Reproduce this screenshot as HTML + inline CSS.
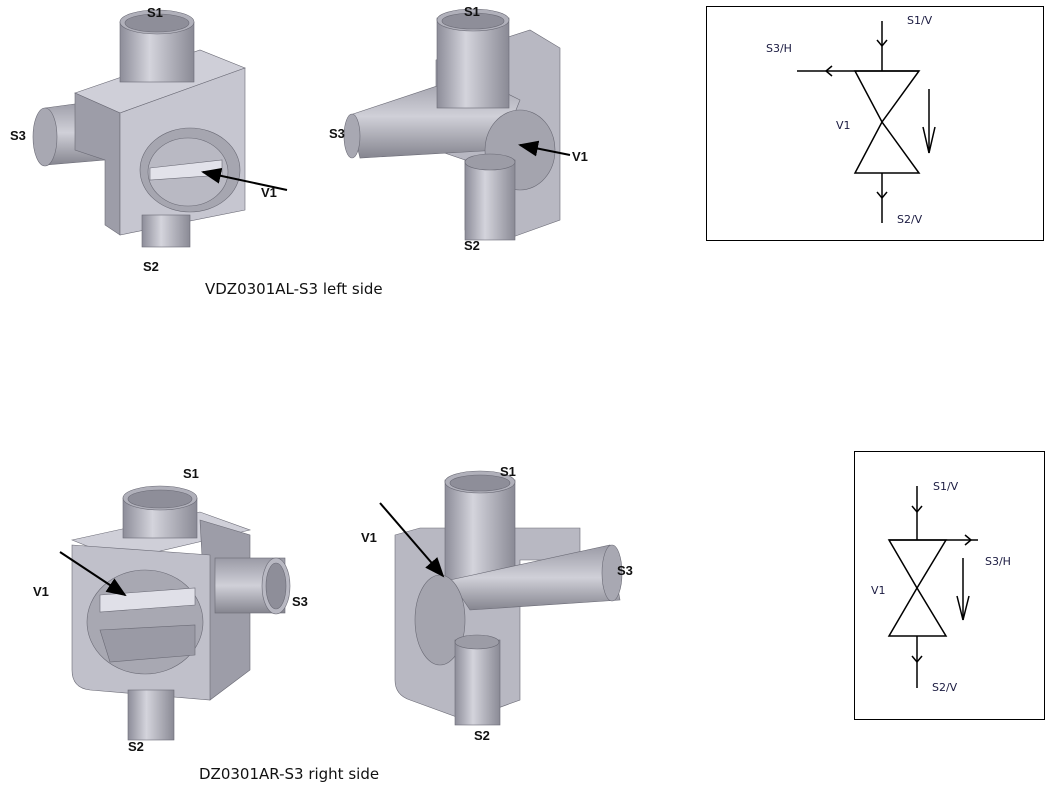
<!DOCTYPE html>
<html><head><style>
body{margin:0;background:#fff;}
svg{display:block;}
.l{font-family:"Liberation Sans",Arial,sans-serif;font-weight:bold;font-size:13px;fill:#111;}
.s{font-family:"DejaVu Sans","Liberation Sans",sans-serif;font-size:11px;fill:#1a1a40;}
.c{font-family:"DejaVu Sans","Liberation Sans",sans-serif;font-size:15px;fill:#111;}
</style></head><body>
<svg width="1060" height="787" viewBox="0 0 1060 787" xmlns="http://www.w3.org/2000/svg">
<defs>
<linearGradient id="cy" x1="0" x2="1"><stop offset="0" stop-color="#8d8d99"/><stop offset=".4" stop-color="#d4d4dc"/><stop offset="1" stop-color="#8a8a95"/></linearGradient>
<linearGradient id="cyv" x1="0" x2="0" y1="0" y2="1"><stop offset="0" stop-color="#9a9aa5"/><stop offset=".5" stop-color="#d0d0d8"/><stop offset="1" stop-color="#85858f"/></linearGradient>
<marker id="ah" markerWidth="10" markerHeight="8" refX="9" refY="4" orient="auto"><path d="M0,0 L10,4 L0,8 Z" fill="#000"/></marker>
</defs>

<!-- ===== Top-left object ===== -->
<g stroke="#6a6a75" stroke-width="0.6">
<polygon points="45,108 105,100 105,160 45,165" fill="url(#cyv)"/>
<ellipse cx="45" cy="137" rx="12" ry="29" fill="#a8a8b2"/>
<polygon points="75,93 200,50 245,68 120,113" fill="#cfcfd8"/>
<polygon points="75,93 120,113 120,235 105,225 105,160 75,150" fill="#9d9da8"/>
<polygon points="120,113 245,68 245,210 120,235" fill="#c6c6d0"/>
<rect x="120" y="22" width="74" height="60" fill="url(#cy)"/>
<ellipse cx="157" cy="22" rx="37" ry="12" fill="#b0b0ba"/>
<ellipse cx="157" cy="23" rx="32" ry="9" fill="#8e8e99"/>
<rect x="142" y="215" width="48" height="32" fill="url(#cy)"/>
<ellipse cx="190" cy="170" rx="50" ry="42" fill="#a6a6b0"/>
<ellipse cx="188" cy="172" rx="40" ry="34" fill="#b9b9c3"/>
<polygon points="150,168 222,160 222,175 150,180" fill="#e2e2ea"/>
</g>
<line x1="287" y1="190" x2="203" y2="172" stroke="#000" stroke-width="2" marker-end="url(#ah)"/>
<text class="l" x="147" y="17">S1</text>
<text class="l" x="10" y="140">S3</text>
<text class="l" x="261" y="197">V1</text>
<text class="l" x="143" y="271">S2</text>
<text class="c" x="205" y="294">VDZ0301AL-S3 left side</text>

<!-- ===== Top-middle object ===== -->
<g stroke="#6a6a75" stroke-width="0.6">
<polygon points="436,60 530,30 560,48 560,220 510,238 465,230 465,160 436,150" fill="#b8b8c2"/>
<polygon points="350,115 470,75 520,100 500,150 360,158" fill="url(#cyv)"/>
<ellipse cx="352" cy="136" rx="8" ry="22" fill="#a8a8b2"/>
<rect x="437" y="18" width="72" height="90" fill="url(#cy)"/>
<ellipse cx="473" cy="20" rx="36" ry="11" fill="#b0b0ba"/>
<ellipse cx="473" cy="21" rx="31" ry="8" fill="#8e8e99"/>
<ellipse cx="520" cy="150" rx="35" ry="40" fill="#a4a4ae"/>
<rect x="465" y="160" width="50" height="80" fill="url(#cy)"/>
<ellipse cx="490" cy="162" rx="25" ry="8" fill="#9c9ca6"/>
</g>
<line x1="570" y1="155" x2="520" y2="145" stroke="#000" stroke-width="2" marker-end="url(#ah)"/>
<text class="l" x="464" y="16">S1</text>
<text class="l" x="329" y="138">S3</text>
<text class="l" x="572" y="161">V1</text>
<text class="l" x="464" y="250">S2</text>

<!-- ===== Top-right schematic ===== -->
<rect x="706.5" y="6.5" width="337" height="234" fill="none" stroke="#000" stroke-width="1"/>
<g stroke="#000" stroke-width="1.5" fill="none">
<line x1="882" y1="21" x2="882" y2="71"/>
<polyline points="877,40 882,46 887,40"/>
<line x1="797" y1="71" x2="919" y2="71"/>
<polyline points="832,66 826,71 832,76"/>
<polygon points="855,71 919,71 882,122"/>
<polygon points="882,122 855,173 919,173"/>
<line x1="882" y1="173" x2="882" y2="223"/>
<polyline points="877,192 882,198 887,192"/>
<line x1="929" y1="89" x2="929" y2="153"/>
<polyline points="923,127 929,153 935,127"/>
</g>
<text class="s" x="907" y="24">S1/V</text>
<text class="s" x="766" y="52">S3/H</text>
<text class="s" x="836" y="129">V1</text>
<text class="s" x="897" y="223">S2/V</text>

<!-- ===== Bottom-left object ===== -->
<g stroke="#6a6a75" stroke-width="0.6">
<polygon points="72,540 200,512 250,530 122,560" fill="#cfcfd8"/>
<polygon points="200,520 250,535 250,670 210,700" fill="#9d9da8"/>
<path d="M72,545 L210,555 L210,700 L90,690 Q72,688 72,670 Z" fill="#c0c0ca"/>
<rect x="215" y="558" width="70" height="55" fill="url(#cyv)"/>
<ellipse cx="276" cy="586" rx="14" ry="28" fill="#b8b8c2"/>
<ellipse cx="276" cy="586" rx="10" ry="23" fill="#8e8e99"/>
<rect x="123" y="498" width="74" height="40" fill="url(#cy)"/>
<ellipse cx="160" cy="498" rx="37" ry="12" fill="#b0b0ba"/>
<ellipse cx="160" cy="499" rx="32" ry="9" fill="#8e8e99"/>
<rect x="128" y="690" width="46" height="50" fill="url(#cy)"/>
<ellipse cx="145" cy="622" rx="58" ry="52" fill="#a8a8b2"/>
<polygon points="100,595 195,588 195,605 100,612" fill="#e0e0e8"/>
<polygon points="100,630 195,625 195,655 110,662" fill="#9a9aa5"/>
</g>
<line x1="60" y1="552" x2="125" y2="595" stroke="#000" stroke-width="2" marker-end="url(#ah)"/>
<text class="l" x="183" y="478">S1</text>
<text class="l" x="33" y="596">V1</text>
<text class="l" x="292" y="606">S3</text>
<text class="l" x="128" y="751">S2</text>
<text class="c" x="199" y="779">DZ0301AR-S3 right side</text>

<!-- ===== Bottom-middle object ===== -->
<g stroke="#6a6a75" stroke-width="0.6">
<path d="M395,535 L420,528 L580,528 L580,560 L520,560 L520,700 L465,720 L410,700 Q395,695 395,680 Z" fill="#b8b8c2"/>
<rect x="445" y="480" width="70" height="100" fill="url(#cy)"/>
<ellipse cx="480" cy="482" rx="35" ry="11" fill="#b0b0ba"/>
<ellipse cx="480" cy="483" rx="30" ry="8" fill="#8e8e99"/>
<polygon points="450,580 610,545 620,600 470,610" fill="url(#cyv)"/>
<ellipse cx="612" cy="573" rx="10" ry="28" fill="#a8a8b2"/>
<ellipse cx="440" cy="620" rx="25" ry="45" fill="#a4a4ae"/>
<rect x="455" y="640" width="45" height="85" fill="url(#cy)"/>
<ellipse cx="477" cy="642" rx="22" ry="7" fill="#9c9ca6"/>
</g>
<line x1="380" y1="503" x2="443" y2="576" stroke="#000" stroke-width="2" marker-end="url(#ah)"/>
<text class="l" x="500" y="476">S1</text>
<text class="l" x="361" y="542">V1</text>
<text class="l" x="617" y="575">S3</text>
<text class="l" x="474" y="740">S2</text>

<!-- ===== Bottom-right schematic ===== -->
<rect x="854.5" y="451.5" width="190" height="268" fill="none" stroke="#000" stroke-width="1"/>
<g stroke="#000" stroke-width="1.5" fill="none">
<line x1="917" y1="486" x2="917" y2="540"/>
<polyline points="912,506 917,512 922,506"/>
<line x1="889" y1="540" x2="978" y2="540"/>
<polyline points="965,535 971,540 965,545"/>
<polygon points="889,540 946,540 917,588"/>
<polygon points="917,588 889,636 946,636"/>
<line x1="917" y1="636" x2="917" y2="688"/>
<polyline points="912,656 917,662 922,656"/>
<line x1="963" y1="558" x2="963" y2="620"/>
<polyline points="957,596 963,620 969,596"/>
</g>
<text class="s" x="933" y="490">S1/V</text>
<text class="s" x="985" y="565">S3/H</text>
<text class="s" x="871" y="594">V1</text>
<text class="s" x="932" y="691">S2/V</text>
</svg>
</body></html>
